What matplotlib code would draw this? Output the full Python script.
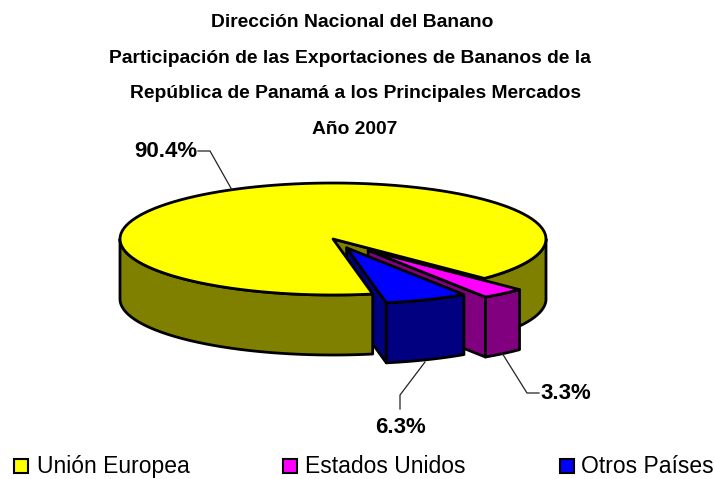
import numpy as np
import matplotlib
matplotlib.use('Agg')
import matplotlib.pyplot as plt
from matplotlib.patches import Polygon, Rectangle

title_lines = ['Dirección Nacional del Banano',
               'Participación de las Exportaciones de Bananos de la',
               'República de Panamá a los Principales Mercados',
               'Año 2007']
categories = ['Unión Europea', 'Estados Unidos', 'Otros Países']
shares = [90.4, 3.3, 6.3]
top_colors = ['#ffff00', '#ff00ff', '#0000ff']
side_colors = ['#808000', '#800080', '#000080']

FONT = 'Liberation Sans'

# pie geometry, in pixels
cx, cy = 333, 239
rx, ry = 213, 56
depth = 60
explode = [0, 0.26, 0.17]
first_angle = -44.7   # right edge of the big slice


def pt(c, ang):
    t = np.radians(ang)
    return np.array([c[0] + rx * np.cos(t), c[1] - ry * np.sin(t)])


def arc(c, a0, a1):
    t = np.radians(np.linspace(a0, a1, 120))
    return np.column_stack([c[0] + rx * np.cos(t), c[1] - ry * np.sin(t)])


def wall(pts):
    low = pts[::-1] + [0, depth]
    return np.vstack([pts, low])


def draw(ax, pts, color, z):
    ax.add_patch(Polygon(pts, closed=True, fc=color, ec='black', lw=2, joinstyle='round', zorder=z))


fig = plt.figure(figsize=(7.15, 4.79), dpi=100)
ax = fig.add_axes([0, 0, 1, 1])
ax.set_xlim(0, 715)
ax.set_ylim(479, 0)
ax.axis('off')

# slice angles come from the shares, going clockwise from the big slice edge
spans = [s / sum(shares) * 360 for s in shares]
us_start = first_angle
us_end = us_start - spans[1]
ot_end = us_end - spans[2]

mid_us = np.radians((us_start + us_end) / 2)
mid_ot = np.radians((us_end + ot_end) / 2)
c_us = (cx + explode[1] * rx * np.cos(mid_us), cy - explode[1] * ry * np.sin(mid_us))
c_ot = (cx + explode[2] * rx * np.cos(mid_ot), cy - explode[2] * ry * np.sin(mid_ot))
c_eu = (cx, cy)

# inner cut of the big slice
draw(ax, wall(np.array([c_eu, pt(c_eu, first_angle)])), side_colors[0], 1)
# back right wall of big slice
draw(ax, wall(arc(c_eu, first_angle, 0)), side_colors[0], 2)
# Estados Unidos
draw(ax, wall(np.array([c_us, pt(c_us, us_end)])), side_colors[1], 3)
draw(ax, wall(arc(c_us, us_end, us_start)), side_colors[1], 4)
draw(ax, np.vstack([[c_us], arc(c_us, us_end, us_start)]), top_colors[1], 5)
# Otros Paises side, goes under the big slice
draw(ax, wall(np.array([c_ot, pt(c_ot, ot_end)])), side_colors[2], 6)
# front left wall of big slice and its top
draw(ax, wall(arc(c_eu, -180, ot_end)), side_colors[0], 7)
draw(ax, np.vstack([[c_eu], arc(c_eu, first_angle, ot_end + 360)]), top_colors[0], 8)
# Otros Paises front and top
draw(ax, wall(arc(c_ot, ot_end, us_end)), side_colors[2], 9)
draw(ax, np.vstack([[c_ot], arc(c_ot, ot_end, us_end)]), top_colors[2], 10)

# title
for txt, x, y in zip(title_lines, [352, 350, 355, 355], [27, 63, 98, 134]):
    ax.text(x, y, txt, ha='center', va='baseline', family=FONT, weight='bold', fontsize=13.9, color='black')

# data labels and leaders
ax.plot([198, 210, 232], [151, 151, 190], color='#222222', lw=0.9, zorder=11)
ax.plot([502, 527, 539], [353, 393, 393], color='#222222', lw=0.9, zorder=11)
ax.plot([425, 400, 400], [362, 395, 409], color='#222222', lw=0.9, zorder=11)
labels = ['%.1f%%' % s for s in shares]
ax.text(166, 157, labels[0], ha='center', va='baseline', family=FONT, weight='bold', fontsize=16)
ax.text(566, 399, labels[1], ha='center', va='baseline', family=FONT, weight='bold', fontsize=16)
ax.text(400, 433, labels[2], ha='center', va='baseline', family=FONT, weight='bold', fontsize=16)

# legend
for name, col, sx, tx in zip(categories, top_colors, [14, 283, 560], [37, 305, 581]):
    ax.add_patch(Rectangle((sx, 459), 14, 14, fc=col, ec='black', lw=1.5))
    ax.text(tx, 473, name, ha='left', va='baseline', family=FONT, fontsize=16.5, color='black')

fig.savefig('out.png', dpi=100)
